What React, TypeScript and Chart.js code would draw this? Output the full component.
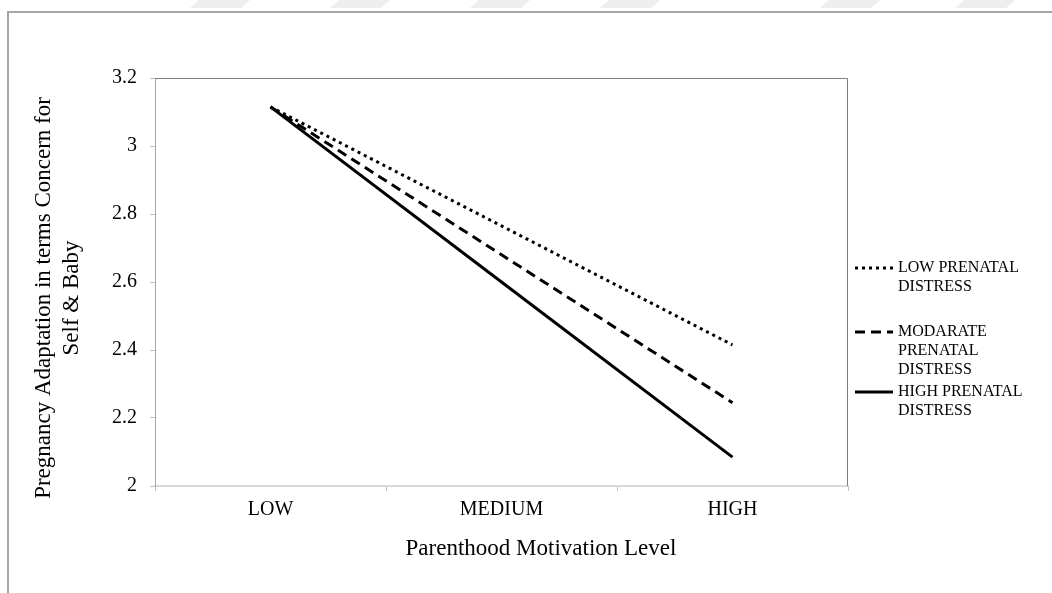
import React, { useEffect, useRef } from "react";
import { Chart, registerables } from "chart.js";

Chart.register(...registerables);

const categories = ["LOW", "MEDIUM", "HIGH"];
const seriesNames = ["LOW PRENATAL DISTRESS", "MODARATE PRENATAL DISTRESS", "HIGH PRENATAL DISTRESS"];
const legendLabelLines = [
  ["LOW PRENATAL", "DISTRESS"],
  ["MODARATE", "PRENATAL", "DISTRESS"],
  ["HIGH PRENATAL", "DISTRESS"],
];
const lowDistress = [3.115, 2.765, 2.415];
const moderateDistress = [3.115, 2.68, 2.245];
const highDistress = [3.115, 2.6, 2.085];
const yTicks = [2, 2.2, 2.4, 2.6, 2.8, 3, 3.2];
const yTitleLines = ["Pregnancy Adaptation in terms Concern for", "Self & Baby"];
const xTitle = "Parenthood Motivation Level";

const FONT = "'Liberation Serif', 'Times New Roman', serif";
const W = 1052;
const H = 593;
const dashes = [[3, 4], [10, 6], []];

const decorPlugin = {
  id: "decor",
  beforeDraw(chart: any) {
    const ctx = chart.ctx;
    ctx.save();
    ctx.fillStyle = "#ffffff";
    ctx.fillRect(0, 0, W, H);
    ctx.fillStyle = "#eeeeee";
    [190, 330, 470, 600, 820, 955].forEach((x0) => {
      ctx.beginPath();
      ctx.moveTo(x0 + 9, 0);
      ctx.lineTo(x0 + 60, 0);
      ctx.lineTo(x0 + 51, 8);
      ctx.lineTo(x0, 8);
      ctx.closePath();
      ctx.fill();
    });
    ctx.strokeStyle = "#a6a6a6";
    ctx.lineWidth = 2;
    ctx.beginPath();
    ctx.moveTo(8, H + 5);
    ctx.lineTo(8, 12);
    ctx.lineTo(W + 5, 12);
    ctx.stroke();
    ctx.restore();
  },
  afterDraw(chart: any) {
    const ctx = chart.ctx;
    const { left, right, top, bottom } = chart.chartArea;
    ctx.save();
    ctx.strokeStyle = "#7f7f7f";
    ctx.lineWidth = 1;
    ctx.beginPath();
    ctx.moveTo(left, top + 0.5);
    ctx.lineTo(right - 0.5, top + 0.5);
    ctx.lineTo(right - 0.5, bottom);
    ctx.stroke();

    // legend
    const legendY = [268, 332, 392];
    ctx.font = `16px ${FONT}`;
    ctx.fillStyle = "#000";
    ctx.textBaseline = "middle";
    ctx.textAlign = "left";
    legendLabelLines.forEach((lines, i) => {
      const y = legendY[i];
      ctx.strokeStyle = "#000";
      ctx.lineWidth = 3;
      ctx.setLineDash(dashes[i]);
      ctx.beginPath();
      ctx.moveTo(855, y);
      ctx.lineTo(893, y);
      ctx.stroke();
      ctx.setLineDash([]);
      lines.forEach((t, k) => ctx.fillText(t, 898, y + k * 19));
    });

    // axis titles
    ctx.font = `23px ${FONT}`;
    ctx.textAlign = "center";
    ctx.fillText(xTitle, 541, 549);
    ctx.translate(0, 298);
    ctx.rotate(-Math.PI / 2);
    ctx.fillText(yTitleLines[0], 0, 44);
    ctx.fillText(yTitleLines[1], 0, 72);
    ctx.restore();
  },
};

export default function App() {
  const ref = useRef<HTMLCanvasElement>(null);
  useEffect(() => {
    if (!ref.current) return;
    const series = [lowDistress, moderateDistress, highDistress];
    const chart = new Chart(ref.current, {
      type: "line",
      data: {
        labels: categories,
        datasets: series.map((d, i) => ({
          label: seriesNames[i],
          data: d,
          borderColor: "#000",
          backgroundColor: "#000",
          borderWidth: 3,
          borderDash: dashes[i],
          pointRadius: 0,
          fill: false,
          tension: 0,
        })),
      },
      options: {
        responsive: false,
        animation: false,
        devicePixelRatio: 1,
        layout: { padding: { left: 0, top: 78, right: W - 848, bottom: 0 } },
        plugins: { legend: { display: false }, tooltip: { enabled: false } },
        scales: {
          x: {
            type: "category",
            offset: true,
            grid: { offset: true, drawOnChartArea: false, tickLength: 5, color: "#bfbfbf" },
            border: { color: "#d9d9d9", width: 2 },
            ticks: { font: { family: FONT, size: 20 }, color: "#000", padding: 7 },
            afterFit: (s: any) => {
              s.height = H - 486;
            },
          },
          y: {
            min: 2,
            max: 3.2,
            afterBuildTicks: (s: any) => {
              s.ticks = yTicks.map((v) => ({ value: v }));
            },
            grid: { drawOnChartArea: false, tickLength: 5, color: "#bfbfbf" },
            border: { color: "#a6a6a6", width: 1 },
            ticks: {
              font: { family: FONT, size: 20 },
              color: "#000",
              padding: 13,
              callback: (v: any) => String(v),
            },
            afterFit: (s: any) => {
              s.width = 155;
            },
          },
        },
      },
      plugins: [decorPlugin],
    });
    return () => chart.destroy();
  }, []);
  return (
    <div style={{ position: "fixed", left: 0, top: 0, width: W, height: H, background: "#fff" }}>
      <canvas ref={ref} width={W} height={H} style={{ display: "block" }} />
    </div>
  );
}
